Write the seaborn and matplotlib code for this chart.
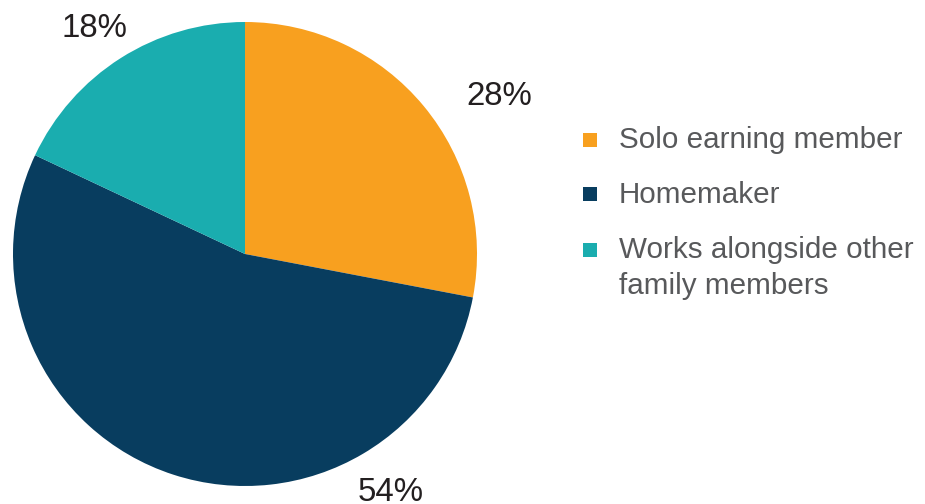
import matplotlib
matplotlib.use("Agg")
import matplotlib.pyplot as plt
from matplotlib.patches import Rectangle
import seaborn as sns

# Share of respondents by role in household earnings
categories = ["Solo earning member", "Homemaker", "Works alongside other\nfamily members"]
shares = [28, 54, 18]
pct_labels = [f"{v}%" for v in shares]

sns.set_theme(style="white")
plt.rcParams["font.family"] = ["Liberation Sans", "DejaVu Sans"]

colors = ["#F8A01F", "#083D5F", "#1AADAF"]
text_dark = "#231F20"
text_grey = "#58595B"

W, H = 925, 504
fig = plt.figure(figsize=(W / 100, H / 100), dpi=100)

# pie centre and radius in pixels
cx, cy, r = 245, 254, 232
ax = fig.add_axes([(cx - r) / W, (H - cy - r) / H, 2 * r / W, 2 * r / H])
wedges, _ = ax.pie(shares, colors=colors, startangle=90, counterclock=False,
                   radius=1.0, wedgeprops=dict(linewidth=0))
ax.set_xlim(-1, 1)
ax.set_ylim(-1, 1)
ax.set_aspect("auto")
ax.axis("off")

# percentage labels placed outside the wedges (in pie-radius units)
label_pos = [(1.095, 0.677), (0.629, -1.03), (-0.651, 0.974)]
for txt, (lx, ly) in zip(pct_labels, label_pos):
    ax.text(lx, ly, txt, ha="center", va="center", fontsize=23.8,
            color=text_dark, clip_on=False)

# legend: coloured squares with grey labels
sq = 14
rows = [(140, 148), (194, 203), (250, 258)]  # (square centre y, text baseline y) in px
for (sy, by), c, lab in zip(rows, colors, categories):
    fig.patches.append(Rectangle((583 / W, (H - sy - sq / 2) / H), sq / W, sq / H,
                                 transform=fig.transFigure, facecolor=c,
                                 edgecolor="none"))
    lines = lab.split("\n")
    for i, line in enumerate(lines):
        fig.text(619 / W, (H - by - i * 36) / H, line, ha="left", va="baseline",
                 fontsize=21.3, color=text_grey)

fig.savefig("out.png", dpi=100)
